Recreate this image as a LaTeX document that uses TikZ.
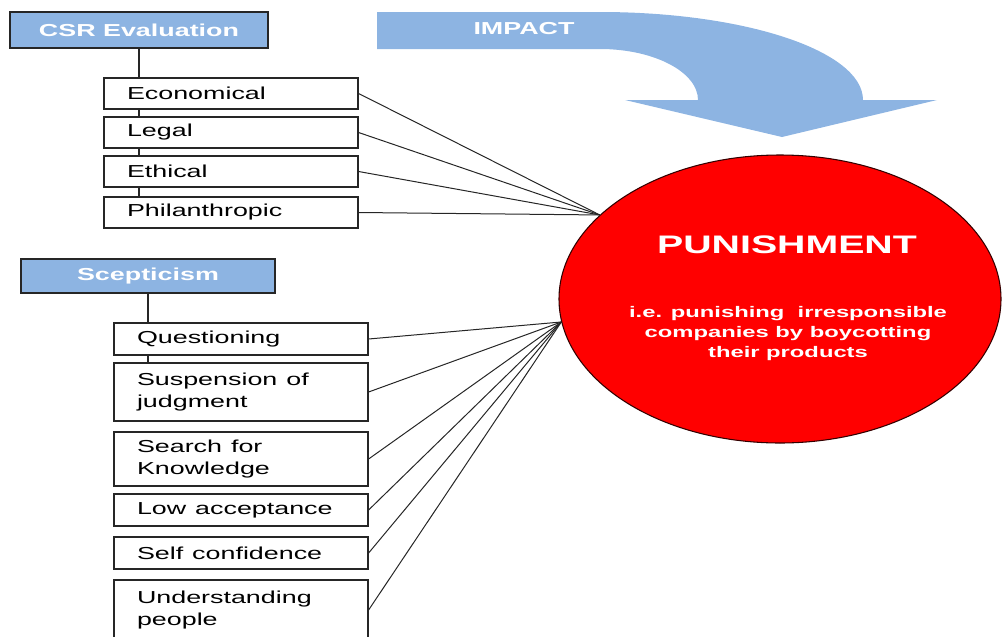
\documentclass[tikz,border=0pt]{standalone}
\usepackage{fontspec}
\setmainfont{Liberation Sans}
\usepackage{graphicx}
\usetikzlibrary{shapes.geometric}
\definecolor{headblue}{RGB}{141,180,226}
\definecolor{punred}{RGB}{255,0,0}
\newcommand{\sx}[1]{\scalebox{1.55}[1]{#1}}
\begin{document}
\begin{tikzpicture}[x=0.75pt, y=-0.75pt,
head node/.style={draw=black!85, line width=1pt, fill=headblue, text=white, font=\fontsize{13}{16}\selectfont\bfseries, inner sep=0pt},
item node/.style={draw=black!85, line width=0.9pt, fill=white, text width=156pt, inner xsep=17.25pt, inner ysep=0pt, align=left, font=\fontsize{13}{16.5}\selectfont}]
\useasboundingbox (0,0) rectangle (1004,636);
%arrow
\fill[headblue] (377,12) -- (600,12) .. controls (745,12) and (863,51) .. (863,100) -- (937,100) -- (782,137) -- (625,100) -- (698,100) .. controls (698,72) and (654,49) .. (600,49) -- (377,49) -- cycle;
\node[text=white, font=\fontsize{13}{16}\selectfont\bfseries] (impact) at (524,29) {\sx{IMPACT}};
%punishment
\node[ellipse, draw=black!80!red, line width=0.8pt, fill=punred, minimum width=331.5pt, minimum height=216pt, inner sep=0pt] (pun) at (780,299) {};
\node[text=white, font=\fontsize{19}{22}\selectfont\bfseries] (puntitle) at (787,245) {\sx{PUNISHMENT}};
\node[text=white, align=center, font=\fontsize{11.5}{15}\selectfont\bfseries] (puntext) at (788,334) {\sx{i.e. punishing\ \ irresponsible}\\\sx{companies by boycotting}\\\sx{their products}};
\begin{scope}
\node[head node, minimum width=193.5pt, minimum height=27pt] (csr) at (139,30) {\sx{CSR Evaluation}};
\node[head node, minimum width=190.5pt, minimum height=25.5pt] (scep) at (148,276) {\sx{Scepticism}};
\draw[line width=1.2pt, black!85] (csr.south) -- (csr.south |- 0,197);
\draw[line width=1.2pt, black!85] (scep.south) -- (scep.south |- 0,363);
\node[item node, minimum height=23.25pt] (c1) at (231,93.5) {\sx{Economical}};%1
\node[item node, minimum height=23.25pt] (c2) at (231,132.5) {\sx{Legal}};%2
\node[item node, minimum height=23.25pt] (c3) at (231,171.5) {\sx{Ethical}};%3
\node[item node, minimum height=23.25pt] (c4) at (231,212.5) {\sx{Philanthropic}};%4
\node[item node, minimum height=24pt] (s1) at (241,339) {\sx{Questioning}};%1
\node[item node, minimum height=43.5pt] (s2) at (241,392) {\sx{Suspension of}\\\sx{judgment}};%2
\node[item node, minimum height=40.5pt] (s3) at (241,459) {\sx{Search for}\\\sx{Knowledge}};%3
\node[item node, minimum height=24pt] (s4) at (241,510) {\sx{Low acceptance}};%4
\node[item node, minimum height=24pt] (s5) at (241,553) {\sx{Self confidence}};%5
\node[item node, minimum height=45pt] (s6) at (241,610) {\sx{Understanding}\\\sx{people}};%6
\end{scope}
\begin{scope}[every edge/.style={draw=black!85, line width=0.75pt}]
\draw  (c1.east) edge (pun.155);
\draw  (c2.east) edge (pun.155);
\draw  (c3.east) edge (pun.155);
\draw  (c4.east) edge (pun.155);
\draw  (s1.east) edge (pun.186);
\draw  (s2.east) edge (pun.186);
\draw  (s3.east) edge (pun.186);
\draw  (s4.east) edge (pun.186);
\draw  (s5.east) edge (pun.186);
\draw  (s6.east) edge (pun.186);
\end{scope}
\end{tikzpicture}
\end{document}
